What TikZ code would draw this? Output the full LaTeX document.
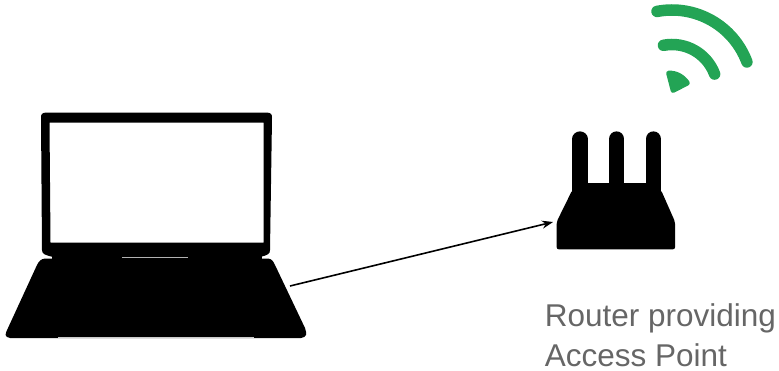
\documentclass[tikz,border=0pt]{standalone}
\usepackage{fontspec}
\usetikzlibrary{arrows.meta}
\setmainfont{Liberation Sans}
\definecolor{wifigreen}{HTML}{23A455}
\definecolor{labelgray}{HTML}{666666}
\begin{document}
\begin{tikzpicture}[x=1pt,y=-1pt,>={Stealth[length=11pt,width=8pt]},line width=1.6pt,
  labeltext/.style={anchor=base west,inner sep=0pt,text=labelgray,font=\fontsize{31.5}{36}\selectfont}]
  \useasboundingbox (0,0) rectangle (779,370);
  \coordinate (A) at (290,286);
  \coordinate (B) at (553,222);
  \coordinate (W) at (672,90);

  % laptop screen
  \fill[even odd rule] (46,112.5) -- (267,112.5) .. controls (271,113) and (272,114) .. (272,118)
    -- (270,250) .. controls (270,254) and (268,255) .. (260,257) -- (53,257)
    .. controls (45,255) and (42,254) .. (42,250) -- (41,118) .. controls (41,114) and (42,113) .. (46,112.5) -- cycle
    (49.5,122.5) -- (263.5,122.5) -- (263.5,242.5) -- (50.5,242.5) -- cycle;
  % laptop base
  \fill (45,258.5) -- (268,258.5) .. controls (272,259) and (273,261) .. (275,265)
    -- (305,328) .. controls (307,334) and (307,337) .. (301,338)
    -- (10,338) .. controls (4,337) and (5,334) .. (8,328)
    -- (37,265) .. controls (39,261) and (41,259) .. (45,258.5) -- cycle;
  \fill (52,255) rectangle (262,260);
  % highlights
  \draw[gray!60,line width=0.6pt] (122,257) -- (188,257);
  \draw[gray!40,line width=0.9pt] (58,337.7) -- (254,337.7);

  % router
  \fill[rounded corners=2pt] (572.3,190) -- (556.7,221.7) -- (556.7,249.3) -- (675,249.3)
    -- (675,221.7) -- (661,190) -- cycle;
  \foreach \x in {580,616.7,653.3}
    \draw[line width=15.3pt,line cap=round] (\x,139) -- (\x,195);
  \fill (572.3,183) rectangle (661,195);

  % wifi
  \draw[wifigreen,line width=11.5pt,line cap=round] ([shift={(-100.8:80)}]W) arc[start angle=-100.8,end angle=-20.5,radius=80];
  \draw[wifigreen,line width=11.5pt,line cap=round] ([shift={(-100.8:45.5)}]W) arc[start angle=-100.8,end angle=-20.5,radius=45.5];
  \fill[wifigreen,rounded corners=3pt] (671.5,94) -- (665.5,71) .. controls (677,70) and (685,75) .. (691,84) -- cycle;

  \draw[->] (A) -- (B);

  % label
  \node[labeltext] (L1) at (544,326) {Router providing};
  \node[labeltext] (L2) at (544,366) {Access Point};
\end{tikzpicture}
\end{document}
